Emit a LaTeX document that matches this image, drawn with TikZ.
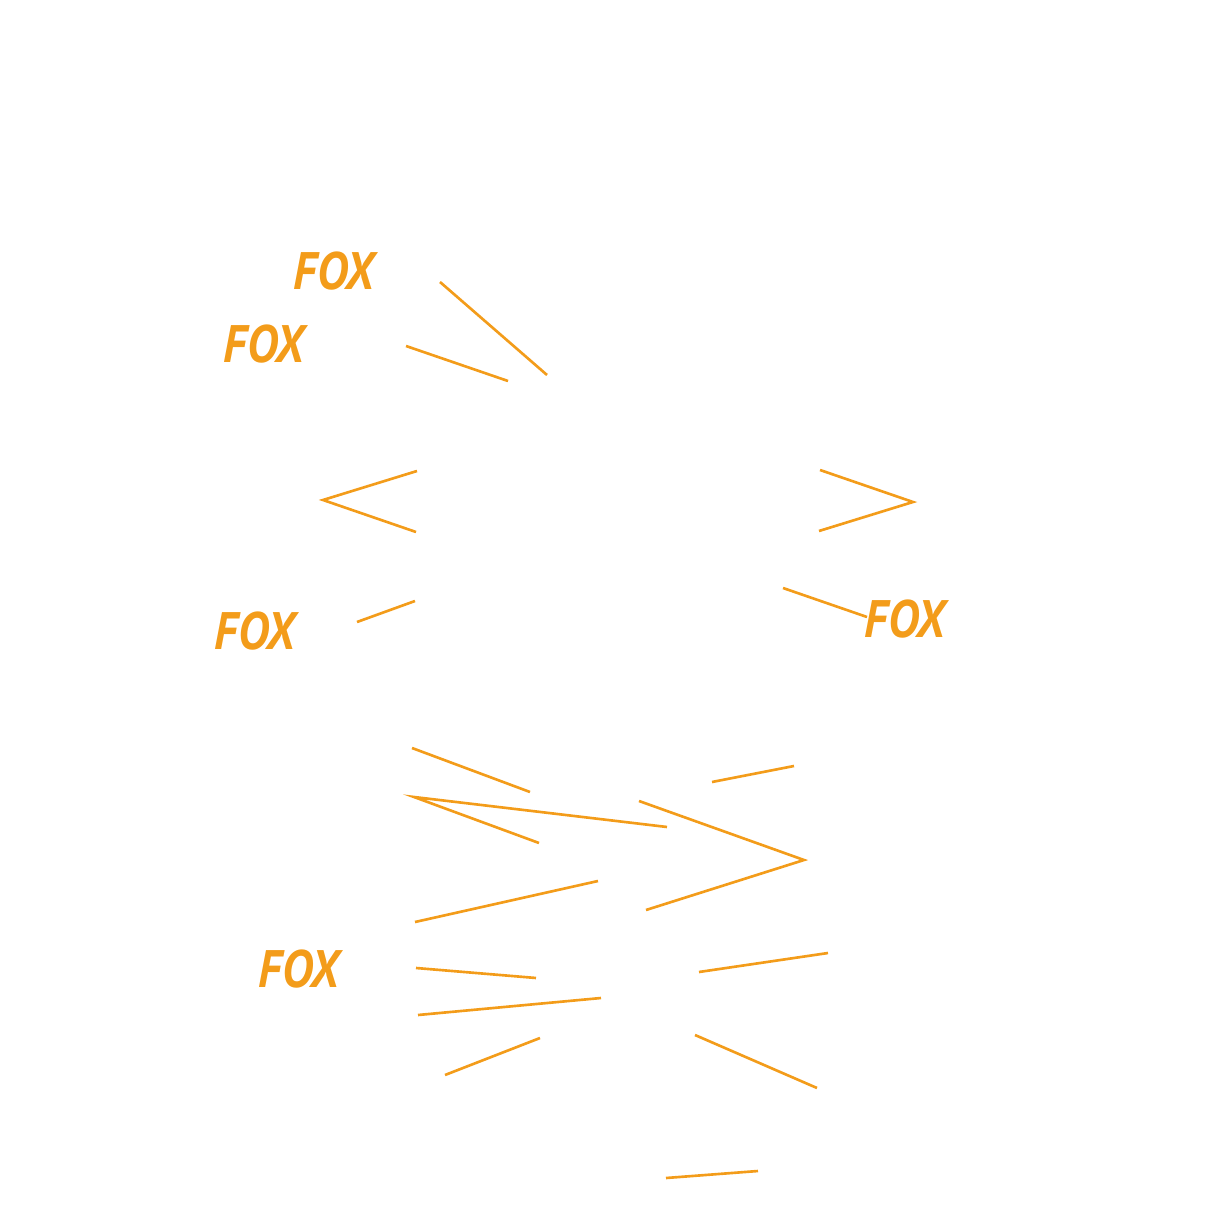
\documentclass[tikz,border=0pt]{standalone}
\usepackage{fontspec}
\setmainfont{PT Sans}
\definecolor{foxorange}{HTML}{F39C1A}
\begin{document}
\begin{tikzpicture}[x=0.01cm,y=-0.01cm,
  stroke/.style={foxorange,line width=0.75pt},
  lbl/.style={foxorange,font=\fontsize{15}{15}\selectfont\itshape\bfseries,xscale=0.9}]
  \useasboundingbox (0,0) rectangle (1225,1225);
  % labels
  \node[lbl] (foxa) at (334,271) {FOX};
  \node[lbl] (foxb) at (264,344) {FOX};
  \node[lbl] (foxc) at (255,631) {FOX};
  \node[lbl] (foxd) at (905,619) {FOX};
  \node[lbl] (foxe) at (299,969) {FOX};
  % strokes
  \draw[stroke] (440,282) -- (547,375);
  \draw[stroke] (406,346) -- (508,381);
  \draw[stroke] (417,471) -- (323,500) -- (416,532);
  \draw[stroke] (820,470) -- (913,502) -- (819,531);
  \draw[stroke] (415,601) -- (357,622);
  \draw[stroke] (783,588) -- (867,617);
  \draw[stroke] (412,748) -- (530,792);
  \draw[stroke] (539,843) -- (414,797) -- (667,827);
  \draw[stroke] (712,782) -- (794,766);
  \draw[stroke] (639,801) -- (804,860) -- (646,910);
  \draw[stroke] (415,922) -- (598,881);
  \draw[stroke] (416,968) -- (536,978);
  \draw[stroke] (418,1015) -- (601,998);
  \draw[stroke] (445,1075) -- (540,1038);
  \draw[stroke] (699,972) -- (828,953);
  \draw[stroke] (695,1035) -- (817,1088);
  \draw[stroke] (666,1178) -- (758,1171);
\end{tikzpicture}
\end{document}
